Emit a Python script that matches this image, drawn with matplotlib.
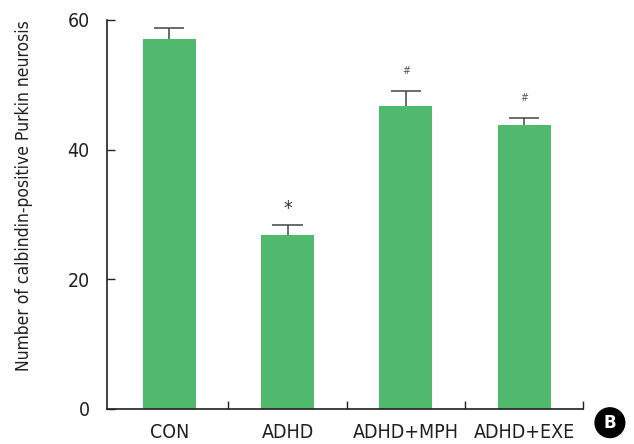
import matplotlib
matplotlib.use("Agg")
import matplotlib.pyplot as plt

plt.rcParams['font.family'] = ['DejaVu Sans']
plt.rcParams['font.stretch'] = 'condensed'

groups = ['CON', 'ADHD', 'ADHD+MPH', 'ADHD+EXE']
means = [57.0, 26.9, 46.7, 43.8]
errs = [1.7, 1.5, 2.4, 1.1]
marks = ['', '*', '#', '#']
yticks = [0, 20, 40, 60]

bar_color = '#50b96e'
ink = '#231f20'

fig = plt.figure(figsize=(6.34, 4.44), dpi=100)
ax = fig.add_axes([0.168, 0.079, 0.752, 0.876])

x = list(range(len(groups)))
ax.bar(x, means, width=0.45, color=bar_color, zorder=2)

# upper error bars only
tops = [m + e for m, e in zip(means, errs)]
ax.vlines(x, means, tops, color='#444444', lw=1.1, zorder=1)
ax.hlines(tops, [xi - 0.127 for xi in x], [xi + 0.127 for xi in x],
          color='#444444', lw=1.1, zorder=1)

for xi, t, s in zip(x, tops, marks):
    if not s:
        continue
    if s == '*':
        ax.annotate(s, (xi, t), xytext=(0, 12), textcoords='offset points',
                    ha='center', va='center', fontsize=14, color='#333333')
    else:
        ax.annotate(s, (xi, t), xytext=(0, 14), textcoords='offset points',
                    ha='center', va='center', fontsize=7.5, color='#555555',
                    style='italic')

ax.set_xlim(-0.53, 3.5)
ax.set_ylim(0, 60)
ax.set_yticks(yticks)
ax.set_xticks(x)
ax.set_xticklabels(groups)
ax.set_xticks([0.5, 1.5, 2.5, 3.5], minor=True)

for sp in ['top', 'right']:
    ax.spines[sp].set_visible(False)
for sp in ['left', 'bottom']:
    ax.spines[sp].set_color(ink)
    ax.spines[sp].set_linewidth(1.2)

ax.tick_params(axis='y', direction='in', length=6, width=1, color=ink,
               labelsize=14, labelcolor=ink, pad=12)
ax.tick_params(axis='x', which='major', length=0, labelsize=14,
               labelcolor=ink, pad=10)
ax.tick_params(axis='x', which='minor', direction='in', length=6, width=1, color=ink)

fig.text(0.038, 0.56, 'Number of calbindin-positive Purkin neurosis',
         rotation=90, ha='center', va='center', fontsize=12.5, color=ink)

fig.text(0.962, 0.048, 'B', ha='center', va='center', fontsize=12,
         fontweight='bold', color='white', fontstretch='normal',
         bbox=dict(boxstyle='circle,pad=0.35', fc='black', ec='black'))

fig.savefig('out.png', dpi=100)
